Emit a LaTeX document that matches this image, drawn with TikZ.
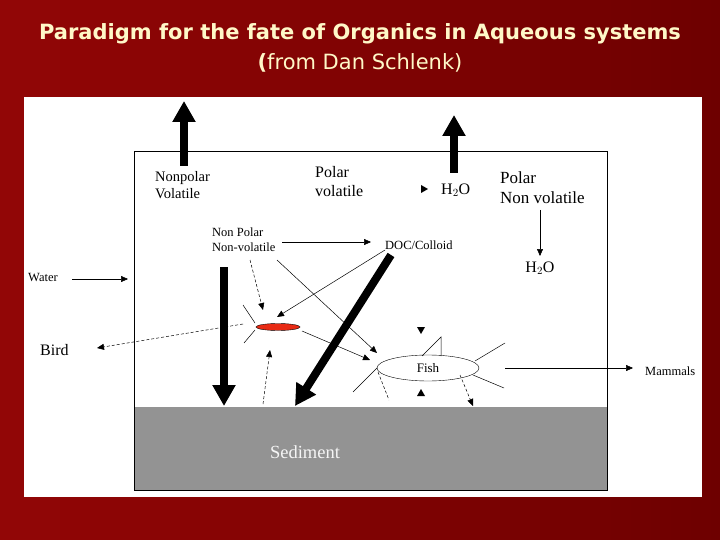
\documentclass[tikz,border=0pt]{standalone}
\usepackage{fontspec}
\setmainfont{Liberation Serif}
\newfontfamily\titlefont{DejaVu Sans}
\usetikzlibrary{arrows.meta,shapes.geometric}

\definecolor{slidered}{RGB}{146,6,6}
\definecolor{slidedark}{RGB}{110,0,0}
\definecolor{titlecream}{RGB}{255,248,200}
\definecolor{sedgray}{RGB}{147,147,147}
\definecolor{dropred}{RGB}{232,42,20}

\tikzset{
  lbl/.style={inner sep=0pt, align=left, anchor=west},
  thinarrow/.style={draw, line width=0.5pt, ->},
  dasharrow/.style={draw, line width=0.5pt, densely dashed, ->},
  ray/.style={draw, line width=0.5pt},
  dashray/.style={draw, line width=0.5pt, densely dashed},
  bigarrow/.style={draw, line width=8pt, -{Triangle[length=21pt,width=22pt]}},
}

\begin{document}
\begin{tikzpicture}[x=1pt,y=-1pt,>={Triangle[length=7pt,width=6pt]}]
        \useasboundingbox (0,0) rectangle (720,540);
        % slide background
        \shade[left color=slidered, right color=slidedark] (0,0) rectangle (720,540);
        \fill[white] (24,97) rectangle (702,497);

        \node[font=\titlefont\bfseries\fontsize{21}{24}\selectfont, text=titlecream] (title) at (360,34) {Paradigm for the fate of Organics in Aqueous systems};
        \node[font=\titlefont\fontsize{21}{24}\selectfont, text=titlecream] (source) at (360,63) {\textbf{(}from Dan Schlenk)};

        % water column and sediment
        \fill[sedgray] (134,407) rectangle (607,490);
        \draw[line width=0.8pt] (134,151) rectangle (607,490);
        \node[font=\fontsize{18.5}{20}\selectfont, text=white!92!gray] (sed) at (305,452) {Sediment};

        % labels
        \node[lbl, font=\fontsize{14.5}{17}\selectfont] (npv) at (155,185.5) {Nonpolar\\Volatile};
        \node[lbl, font=\fontsize{16}{19}\selectfont] (pv) at (315,181.5) {Polar\\volatile};
        \node[lbl, font=\fontsize{17}{20}\selectfont] (pnv) at (500,188) {Polar\\Non volatile};
        \node[lbl, font=\fontsize{16}{19}\selectfont] (wa) at (441,190) {H$_2$O};
        \node[font=\fontsize{16}{19}\selectfont, inner sep=0pt] (wb) at (540,268) {H$_2$O};
        \node[lbl, font=\fontsize{12.5}{15}\selectfont] (nnv) at (212,239.5) {Non Polar\\Non-volatile};
        \node[lbl, font=\fontsize{12.5}{15}\selectfont] (doc) at (385,245) {DOC/Colloid};
        \node[lbl, font=\fontsize{12.5}{15}\selectfont] (water) at (28,278) {Water};
        \node[lbl, font=\fontsize{16}{19}\selectfont] (bird) at (40,350) {Bird};
        \node[lbl, font=\fontsize{12.5}{15}\selectfont] (mam) at (645,371) {Mammals};

        % organisms
        \node[draw, ellipse, fill=dropred, minimum width=44pt, minimum height=7pt, inner sep=0pt] (drop) at (278,327) {};
        \node[draw, ellipse, minimum width=102pt, minimum height=26pt, inner sep=0pt, font=\fontsize{13}{15}\selectfont] (fish) at (428,368) {Fish};
        \draw[line width=0.5pt] (422,356) -- (441,337) -- (441,356);

        % free ends
        \coordinate (npvtop) at (184,101);
        \coordinate (npvbot) at (184,166);
        \coordinate (watop) at (454,115);
        \coordinate (wabot) at (454,173);
        \coordinate (sinktop) at (224,267);
        \coordinate (sinkbot) at (224,406);
        \coordinate (docsink) at (391,255);
        \coordinate (docbot) at (295,406);
        \coordinate (waterend) at (128,279);
        \coordinate (waterstart) at (72,279);
        \coordinate (birdstart) at (243,324);
        \coordinate (birdend) at (97,348);
        \coordinate (pnvstart) at (540,210);
        \coordinate (pnvend) at (540,256);
        \coordinate (nnvout) at (282,242);
        \coordinate (docin) at (371,242);
        \coordinate (sedup) at (263,404);
        \coordinate (dropin) at (270,350);
        \coordinate (mamstart) at (505,368);
        \coordinate (mamend) at (633,368);

        % thick fluxes
        \path[bigarrow] (npvbot) -- (npvtop);
        \path[bigarrow] (wabot) -- (watop);
        \path[bigarrow] (sinktop) -- (sinkbot);
        \path[bigarrow] (docsink) -- (docbot);

        % thin fluxes
        \path[thinarrow] (waterstart) -- (waterend);
        \path[thinarrow] (pnvstart) -- (pnvend);
        \path[thinarrow] (nnvout) -- (docin);
        \path[thinarrow] (mamstart) -- (mamend);
        \path[dasharrow] (birdstart) -- (birdend);
        \path[dasharrow] (250,260) -- (263,310);
        \path[thinarrow] (385,250) -- (277,317);
        \path[thinarrow] (277,260) -- (377,353);
        \path[thinarrow] (302,331) -- (370,360);
        \path[dasharrow] (sedup) -- (dropin);
        \path[dasharrow] (460,375) -- (473,406);

        % rays
        \path[ray] (243,305) -- (255,323);
        \path[ray] (255,330) -- (244,343);
        \path[ray] (377,368) -- (353,392);
        \path[dashray] (378,372) -- (389,400);
        \path[ray] (475,361) -- (505,343);
        \path[ray] (473,375) -- (504,388);

        % lone heads
        \fill (421,185) -- (428,189) -- (421,193) -- cycle;
        \fill (417,327) -- (425,327) -- (421,334) -- cycle;
        \fill (417,396) -- (425,396) -- (421,389) -- cycle;
\end{tikzpicture}
\end{document}
